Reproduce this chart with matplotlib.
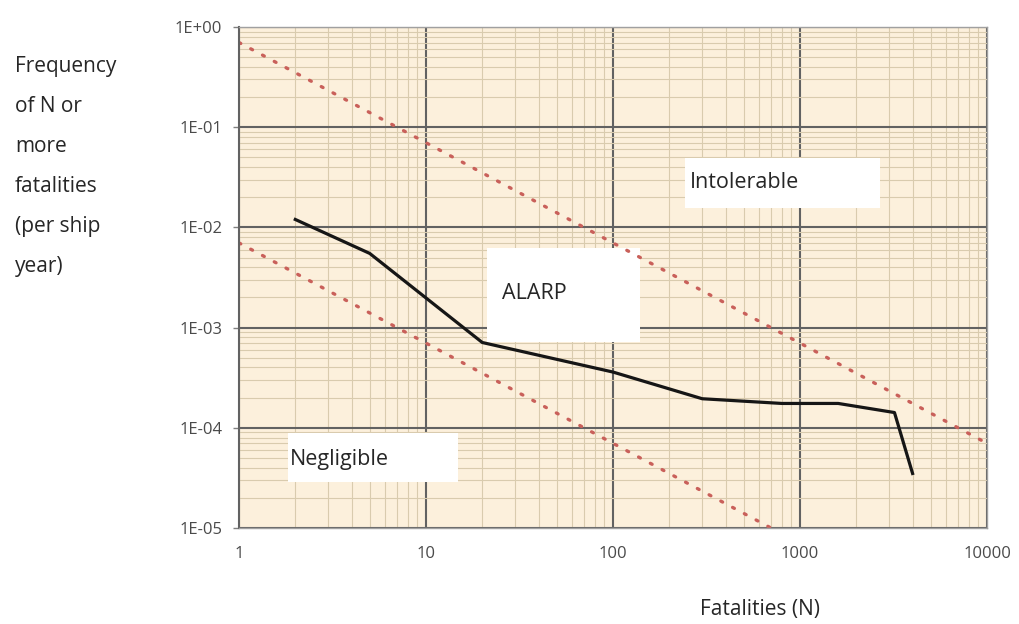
import matplotlib
matplotlib.use("Agg")
from matplotlib import pyplot as plt
from matplotlib.patches import Rectangle
from matplotlib.ticker import LogLocator, FixedLocator, NullFormatter
import numpy as np

plt.rcParams['font.family'] = ['Open Sans', 'DejaVu Sans']

# FN curve (fatalities N vs frequency of N or more)
fatalities = [2, 5, 20, 100, 300, 800, 1600, 3200, 4000]
frequency = [1.2e-2, 5.5e-3, 7.1e-4, 3.6e-4, 1.95e-4, 1.75e-4, 1.75e-4, 1.42e-4, 3.5e-5]

# criterion lines (end points)
upper_n = [1, 10000]
upper_f = [7e-1, 7e-5]
lower_n = [1, 700]
lower_f = [7e-3, 1e-5]

x_ticks = [1, 10, 100, 1000, 10000]
x_labels = ['1', '10', '100', '1000', '10000']
y_ticks = [1e-5, 1e-4, 1e-3, 1e-2, 1e-1, 1e0]
y_labels = ['1E-05', '1E-04', '1E-03', '1E-02', '1E-01', '1E+00']

ylabel_lines = ['Frequency', 'of N or', 'more', 'fatalities', '(per ship', 'year)']
regions = ['Intolerable', 'ALARP', 'Negligible']

W, H = 1019, 624
fig = plt.figure(figsize=(W / 100, H / 100), dpi=100)
ax = fig.add_axes([239 / W, 1 - 528 / H, 748 / W, 501 / H])
ax.set_facecolor('#FCF0DC')

ax.set_xscale('log')
ax.set_yscale('log')
ax.set_xlim(1, 10000)
ax.set_ylim(1e-5, 1)

ax.xaxis.set_major_locator(FixedLocator(x_ticks))
ax.set_xticklabels(x_labels)
ax.yaxis.set_major_locator(FixedLocator(y_ticks))
ax.set_yticklabels(y_labels)
ax.xaxis.set_minor_locator(LogLocator(base=10, subs=np.arange(2, 10)))
ax.yaxis.set_minor_locator(LogLocator(base=10, subs=np.arange(2, 10)))
ax.xaxis.set_minor_formatter(NullFormatter())
ax.yaxis.set_minor_formatter(NullFormatter())

ax.grid(which='minor', color='#D9CBAE', linewidth=0.8, zorder=0)
ax.grid(which='major', color='#626262', linewidth=1.5, zorder=0)
ax.set_axisbelow(True)

ax.tick_params(axis='both', which='minor', length=0)
ax.tick_params(axis='y', which='major', length=4, width=1, color='#808080',
               labelsize=12, labelcolor='#4A4A4A', pad=8)
ax.tick_params(axis='x', which='major', length=0, labelsize=12,
               labelcolor='#4A4A4A', pad=13)
for s in ax.spines.values():
    s.set_color('#A0A0A0')
    s.set_linewidth(1)
ax.spines['left'].set_color('#626262')
ax.spines['left'].set_linewidth(1.5)

# white label boxes (axes fraction)
boxes = [(0.596, 0.639, 0.261, 0.100),
         (0.332, 0.371, 0.204, 0.188),
         (0.066, 0.092, 0.227, 0.098)]
text_pos = [(0.603, 0.689), (0.352, 0.469), (0.068, 0.136)]
for (bx, by, bw, bh), (tx, ty), name in zip(boxes, text_pos, regions):
    ax.add_patch(Rectangle((bx, by), bw, bh, transform=ax.transAxes,
                           facecolor='white', edgecolor='none', zorder=1.5))
    ax.text(tx, ty, name, transform=ax.transAxes, fontsize=15.5,
            color='#262626', va='center', ha='left', zorder=4)

ax.plot(upper_n, upper_f, color='#C9605A', linewidth=2.4,
        linestyle=(0, (0.6, 3.4)), dash_capstyle='round', zorder=2)
ax.plot(lower_n, lower_f, color='#C9605A', linewidth=2.4,
        linestyle=(0, (0.6, 3.4)), dash_capstyle='round', zorder=2)
ax.plot(fatalities, frequency, color='#161616', linewidth=2.3, zorder=3)

# y label, one line at a time
for i, line in enumerate(ylabel_lines):
    fig.text(15 / W, 1 - (72 + 40 * i) / H, line, fontsize=15,
             color='#262626', ha='left', va='baseline')

fig.text(760 / W, 1 - 610 / H, 'Fatalities (N)', fontsize=15,
         color='#262626', ha='center', va='center')

fig.savefig('out.png', dpi=100)
